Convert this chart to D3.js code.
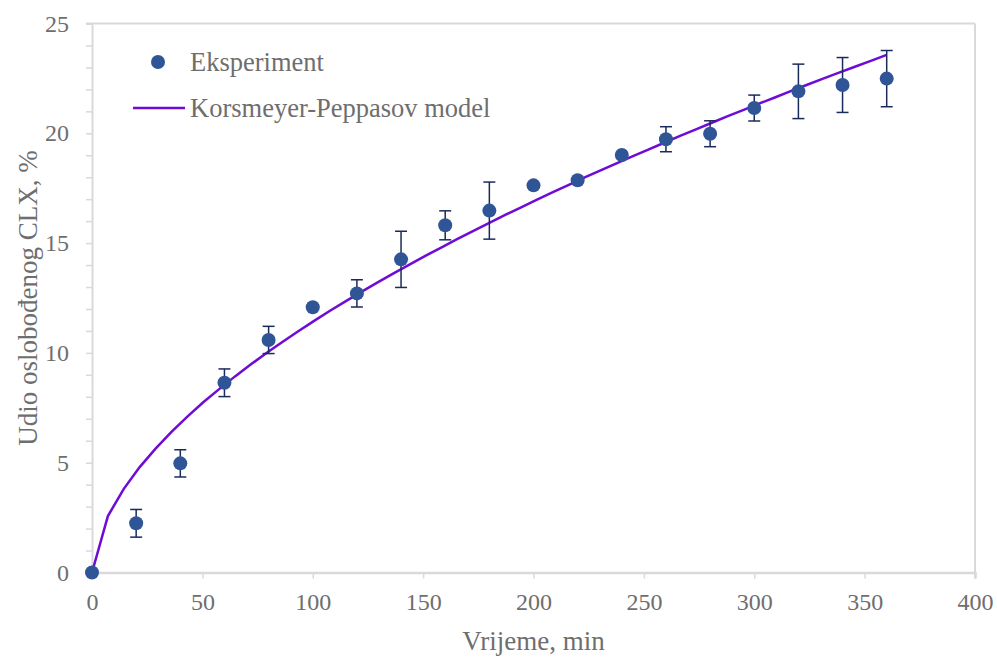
<!DOCTYPE html>
<html>
<head>
<meta charset="utf-8">
<script src="https://cdn.jsdelivr.net/npm/d3@7"></script>
<style>
  html, body { margin: 0; padding: 0; background: #fff; }
  svg { display: block; }
</style>
</head>
<body>
<svg id="chart" width="997" height="657"></svg>
<script>
// ---- Data ----
const expTime  = [0, 20, 40, 60, 80, 100, 120, 140, 160, 180, 200, 220, 240, 260, 280, 300, 320, 340, 360];
const expValue = [0, 2.24, 4.97, 8.64, 10.59, 12.08, 12.71, 14.26, 15.81, 16.48, 17.63, 17.86, 19.01, 19.73, 19.98, 21.15, 21.91, 22.20, 22.49];
const expError = [0, 0.63, 0.62, 0.63, 0.62, 0, 0.62, 1.28, 0.66, 1.30, 0, 0, 0, 0.57, 0.59, 0.59, 1.24, 1.25, 1.28];

const modelTime  = [0, 7.2, 14.4, 21.6, 28.8, 36, 43.2, 50.4, 57.6, 64.8, 72, 79.2, 86.4, 93.6, 100.8, 108, 115.2, 122.4, 129.6, 136.8, 144, 151.2, 158.4, 165.6, 172.8, 180, 187.2, 194.4, 201.6, 208.8, 216, 223.2, 230.4, 237.6, 244.8, 252, 259.2, 266.4, 273.6, 280.8, 288, 295.2, 302.4, 309.6, 316.8, 324, 331.2, 338.4, 345.6, 352.8, 360];
const modelValue = [0, 2.57, 3.81, 4.80, 5.64, 6.40, 7.10, 7.75, 8.35, 8.93, 9.48, 10.01, 10.51, 11.00, 11.47, 11.93, 12.37, 12.80, 13.22, 13.63, 14.03, 14.43, 14.81, 15.19, 15.56, 15.92, 16.28, 16.63, 16.98, 17.32, 17.65, 17.99, 18.31, 18.63, 18.95, 19.26, 19.57, 19.88, 20.18, 20.48, 20.78, 21.07, 21.36, 21.64, 21.93, 22.21, 22.49, 22.76, 23.03, 23.30, 23.57];

const xTicks = [0, 50, 100, 150, 200, 250, 300, 350, 400];
const yTicks = [0, 5, 10, 15, 20, 25];
const yMinorTicks = d3.range(0, 26, 1);

const seriesNames = ["Eksperiment", "Korsmeyer-Peppasov model"];
const xTitle = "Vrijeme, min";
const yTitle = "Udio oslobođenog CLX, %";

// ---- Layout ----
const FONT = '"Liberation Serif"';
const svg = d3.select("#chart");
const L = 92, R = 975, T = 23.5, B = 572.5;
const x = d3.scaleLinear().domain([0, 400]).range([L, R]);
const y = d3.scaleLinear().domain([0, 25]).range([B, T]);

const axisColor = "#d9d9d9";
const dotColor = "#2f5597";
const errColor = "#1b2a5c";
const lineColor = "#6e0bd6";
const textColor = "#6e6e6e";

function styleText(sel, size) {
  sel.style("font-family", FONT).style("font-size", size + "px").style("fill", textColor);
}

// frame (top and right border)
svg.append("line").attr("x1", L - 6).attr("x2", R).attr("y1", T).attr("y2", T)
  .attr("stroke", axisColor).attr("stroke-width", 2);
svg.append("line").attr("x1", R).attr("x2", R).attr("y1", T).attr("y2", B + 6)
  .attr("stroke", axisColor).attr("stroke-width", 2);

// y axis
const yAxis = svg.append("g").attr("transform", `translate(${L},0)`)
  .call(d3.axisLeft(y).tickValues(yMinorTicks).tickSize(6).tickFormat(""));
yAxis.select(".domain").attr("stroke", axisColor).attr("stroke-width", 2);
yAxis.selectAll(".tick line").attr("stroke", axisColor).attr("stroke-width", 1.5);

const yLabels = svg.append("g").attr("transform", `translate(${L},0)`)
  .call(d3.axisLeft(y).tickValues(yTicks).tickSize(0).tickPadding(23).tickFormat(d3.format("d")));
yLabels.attr("font-family", "Liberation Serif").attr("font-size", 24);
yLabels.select(".domain").remove();
styleText(yLabels.selectAll("text"), 24);

// x axis
const xAxis = svg.append("g").attr("transform", `translate(0,${B})`)
  .call(d3.axisBottom(x).tickValues(xTicks).tickSize(6).tickPadding(14).tickFormat(d3.format("d")));
xAxis.attr("font-family", "Liberation Serif").attr("font-size", 24);
xAxis.select(".domain").attr("stroke", axisColor).attr("stroke-width", 2.5);
xAxis.selectAll(".tick line").attr("stroke", axisColor).attr("stroke-width", 1.5);
styleText(xAxis.selectAll("text"), 24);

// titles
styleText(svg.append("text").attr("x", (L + R) / 2).attr("y", 650).attr("text-anchor", "middle")
  .text(xTitle), 27);
styleText(svg.append("text").attr("transform", `translate(37,${(T + B) / 2}) rotate(-90)`)
  .attr("text-anchor", "middle").text(yTitle), 27);

// model line
const line = d3.line().x((d, i) => x(modelTime[i])).y((d, i) => y(modelValue[i]));
svg.append("path").datum(modelValue).attr("d", line)
  .attr("fill", "none").attr("stroke", lineColor).attr("stroke-width", 2.5);

// error bars
const eb = svg.append("g");
expTime.forEach((t, i) => {
  const e = expError[i];
  if (e <= 0) return;
  const cx = x(t), y1 = y(expValue[i] + e), y2 = y(expValue[i] - e);
  eb.append("line").attr("x1", cx).attr("x2", cx).attr("y1", y1).attr("y2", y2)
    .attr("stroke", errColor).attr("stroke-width", 1.5);
  [y1, y2].forEach(yy => eb.append("line").attr("x1", cx - 6).attr("x2", cx + 6).attr("y1", yy).attr("y2", yy)
    .attr("stroke", errColor).attr("stroke-width", 1.5));
});

// points
svg.append("g").selectAll("circle").data(expTime).join("circle")
  .attr("cx", d => x(d)).attr("cy", (d, i) => y(expValue[i])).attr("r", 7)
  .attr("fill", dotColor);

// legend
svg.append("circle").attr("cx", 158).attr("cy", 62).attr("r", 7).attr("fill", dotColor);
styleText(svg.append("text").attr("x", 190).attr("y", 71).text(seriesNames[0]), 26.5);
svg.append("line").attr("x1", 133).attr("x2", 185).attr("y1", 108).attr("y2", 108)
  .attr("stroke", lineColor).attr("stroke-width", 2.5);
styleText(svg.append("text").attr("x", 190).attr("y", 117).text(seriesNames[1]), 26.5);
</script>
</body>
</html>
